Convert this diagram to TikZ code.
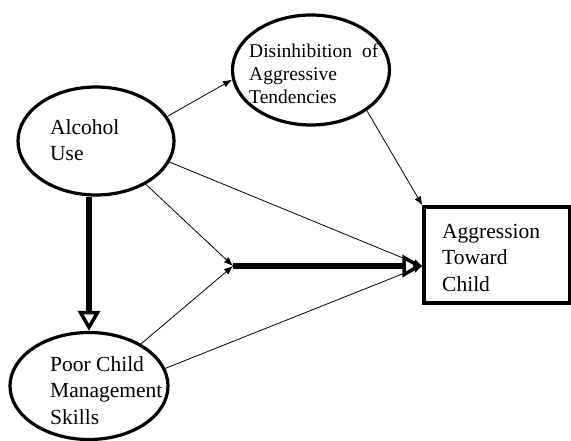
\documentclass[tikz,border=0pt]{standalone}
\usepackage{fontspec}
\setmainfont{Liberation Serif}
\usetikzlibrary{shapes.geometric,arrows.meta,calc}
\begin{document}
\begin{tikzpicture}[x=1pt,y=-1pt,
  oval/.style={ellipse, draw, line width=3.2pt, inner sep=0pt},
  lbl/.style={align=left, inner sep=0pt, font=\fontsize{21.5}{26.5}\selectfont, anchor=base west},
  smalllbl/.style={align=left, inner sep=0pt, font=\fontsize{19.5}{23}\selectfont, anchor=base west},
  thinarrow/.style={line width=0.8pt, -{Latex[length=9pt,width=7pt]}},
  boldarrow/.style={line width=6pt, -{Triangle[open,length=20pt,width=22pt,line width=3.5pt]}}]
\useasboundingbox (0,0) rectangle (571,441);
\fill[white] (0,0) rectangle (571,441);
% shapes
\node[oval, minimum width=157pt, minimum height=110pt] (dis) at (311,70) {};
\node[oval, minimum width=156pt, minimum height=108pt] (alc) at (96,141) {};
\node[oval, minimum width=158pt, minimum height=107pt] (poor) at (89,386) {};
\node[draw, line width=3.2pt, minimum width=146pt, minimum height=96pt, inner sep=0pt] (box) at (497,255) {};
% labels
\node[smalllbl] (dist) at (249,104) {Disinhibition\hspace{5pt} of\\Aggressive\\Tendencies};
\node[lbl] (alct) at (50,161) {Alcohol\\Use};
\node[lbl] (poort) at (50,424) {Poor Child\\Management\\Skills};
\node[lbl] (boxt) at (442,291) {Aggression\\Toward\\Child};
% junction points
\coordinate (j) at (233,266);
\coordinate (tip) at (j -| box.west);
% connectors
\draw[boldarrow] (poor.north |- alc.south) -- (poor.north);
\draw[boldarrow] (j) -- (tip);
\draw[thinarrow] (alc.19) -- (dis.187);
\draw[thinarrow] (dis.-36) -- (box.north west);
\draw[thinarrow] (alc.-16) -- (tip);
\draw[thinarrow] (alc.-41) -- (j);
\draw[thinarrow] (poor.39) -- (j);
\draw[thinarrow] (poor.13) -- (tip);
\end{tikzpicture}
\end{document}
